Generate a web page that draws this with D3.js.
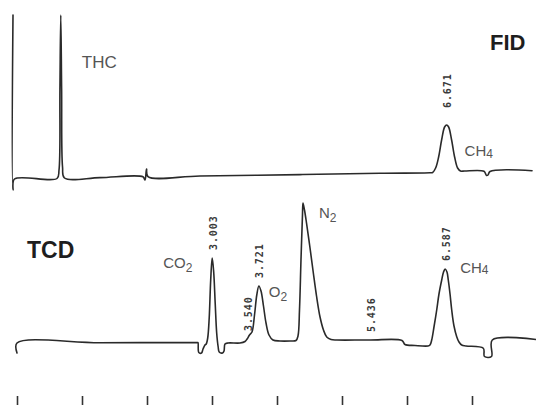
<!DOCTYPE html>
<html>
<head>
<meta charset="utf-8">
<script src="https://cdn.jsdelivr.net/npm/d3@7/dist/d3.min.js"></script>
<style>
  html, body { margin: 0; padding: 0; background: #ffffff; }
  svg { display: block; }
  .trace { fill: none; stroke: #2a2a2a; stroke-width: 1.6; stroke-linejoin: round; stroke-linecap: round; }
  .rt { font-family: "DejaVu Sans Mono", monospace; font-size: 10px; font-weight: bold; fill: #3a3a3a; letter-spacing: 0.9px; }
  .name { font-family: "Liberation Sans", Arial, sans-serif; fill: #555; }
  .det { font-family: "Liberation Sans", Arial, sans-serif; font-weight: bold; fill: #1e1e1e; }
</style>
</head>
<body>
<script>
// FID trace: retention time (min) and detector response (arbitrary units)
const fidTime = [0, 0, 0.023, 0.677, 0.708, 0.722, 0.735, 0.748, 0.762, 0.792, 1.338,
  2.000, 2.031, 2.054, 2.077, 2.877, 4.415, 5.646, 6.415, 6.456, 6.502, 6.548, 6.594, 6.640,
  6.671, 6.702, 6.748, 6.794, 6.840, 6.886, 6.948, 7.246, 7.285, 7.308, 7.338, 7.985];
const fidSignal = [164, -11, 0, 0.5, 9, 90, 164, 90, 12, 1, 1.4,
  2.2, -1, 10, 2.4, 3, 4.4, 5.7, 6.2, 6.5, 11, 22, 39, 52,
  54, 52, 39, 22, 11, 8, 8, 7.7, 3.5, 4, 7.5, 8.3];

// TCD trace: retention time (min) and detector response (arbitrary units)
const tcdTime = [0, 0, 1.277, 2.777, 2.785, 2.797, 2.838, 2.862, 2.892, 2.911, 2.934, 2.957,
  2.980, 3.003, 3.026, 3.049, 3.072, 3.095, 3.111, 3.162, 3.185, 3.200, 3.246, 3.431,
  3.508, 3.540, 3.577, 3.615, 3.654, 3.689, 3.721, 3.754, 3.792, 3.831, 3.877, 3.938,
  4.046, 4.200, 4.292, 4.323, 4.346, 4.369, 4.392, 4.400, 4.423, 4.454, 4.508, 4.559,
  4.608, 4.662, 4.715, 4.765, 4.831, 4.923, 5.431, 5.923, 5.969, 6.123, 6.323, 6.354,
  6.380, 6.415, 6.457, 6.492, 6.534, 6.562, 6.587, 6.615, 6.635, 6.662, 6.688, 6.723,
  6.765, 6.800, 6.842, 6.908, 7.174, 7.192, 7.300, 7.312, 7.985];
const tcdSignal = [-10, 0, 0.3, 0.5, 0.5, -9.5, -10, -6, -2, -1, 5, 25,
  63, 85, 71, 40, 10, -4, -9, -10, -8, -1, 0, 0,
  1.5, 4, 8, 11, 28, 48, 57, 52, 37, 20, 8, 3,
  2, 2, 2.5, 7, 33, 83, 128, 140, 133, 120, 95, 70,
  47, 26, 13, 6, 3.5, 3, 3, 2.5, -1.5, -2.5, -3, -2,
  3, 16, 33, 49, 63, 71, 74, 71, 63, 49, 33, 17,
  6.3, 1, -2, -3, -5.3, -13.5, -13.5, 3, 3.5];

// Integrator retention-time marks
const fidRtValues = [6.671];
const fidRtText = ["6.671"];
const tcdRtValues = [3.003, 3.540, 3.721, 5.436, 6.587];
const tcdRtText = ["3.003", "3.540", "3.721", "5.436", "6.587"];

// Time axis ticks (min)
const tickMinutes = [0, 1, 2, 3, 4, 5, 6, 7];

// Compound names: main part and subscript
const fidNames = ["THC", "CH"];
const fidSubs = ["", "4"];
const tcdNames = ["CO", "O", "N", "CH"];
const tcdSubs = ["2", "2", "2", "4"];

const W = 536, H = 406;
const svg = d3.select("body").append("svg").attr("width", W).attr("height", H);

// Scales: both recorder traces run at the same chart speed
const xF = d3.scaleLinear().domain([0, 8]).range([13, 533]);
const xT = d3.scaleLinear().domain([0, 8]).range([17, 537]);
const yF = d3.scaleLinear().domain([0, 164]).range([179, 15]);
const yT = d3.scaleLinear().domain([0, 140]).range([343, 203]);

const fidData = fidTime.map((t, i) => ({ t, v: fidSignal[i] }));
const tcdData = tcdTime.map((t, i) => ({ t, v: tcdSignal[i] }));

const curve = d3.curveCatmullRom.alpha(0.5);
const lineF = d3.line().x(d => xF(d.t)).y(d => yF(d.v)).curve(curve);
const lineT = d3.line().x(d => xT(d.t)).y(d => yT(d.v)).curve(curve);

svg.append("path").attr("class", "trace").attr("d", lineF(fidData));
svg.append("path").attr("class", "trace").attr("d", lineT(tcdData));

// Response at a given time
function valueAt(data, t) {
  const i = d3.bisector(d => d.t).left(data, t, 2);
  const a = data[Math.max(i - 1, 0)], b = data[Math.min(i, data.length - 1)];
  if (b.t === a.t) return a.v;
  return a.v + (b.v - a.v) * (t - a.t) / (b.t - a.t);
}

// Rotated retention-time labels above the peaks
function rtLabels(values, texts, data, x, y, gap) {
  svg.append("g").selectAll("text").data(values).join("text")
    .attr("class", "rt")
    .attr("transform", d => `translate(${x(d) + 1},${y(valueAt(data, d)) - gap}) rotate(-90)`)
    .attr("dy", "0.35em")
    .attr("text-anchor", "start")
    .text((d, i) => texts[i]);
}
rtLabels(fidRtValues, fidRtText, fidData, xF, yF, 17);
rtLabels(tcdRtValues, tcdRtText, tcdData, xT, yT, 8);

// Compound names
function nameLabel(main, sub, px, py, size, subDy) {
  const t = svg.append("text").attr("class", "name")
    .attr("x", px).attr("y", py).attr("font-size", size);
  t.append("tspan").text(main);
  if (sub) t.append("tspan").attr("font-size", size * 0.8).attr("dy", subDy).text(sub);
}
// THC spike and FID methane
nameLabel(fidNames[0], fidSubs[0], xF(0.735) + 21, 68, 17, 0);
nameLabel(fidNames[1], fidSubs[1], xF(6.671) + 18, 156, 15, 2);
// TCD peaks
nameLabel(tcdNames[0], tcdSubs[0], xT(3.003) - 49, 268, 15, 4);
nameLabel(tcdNames[1], tcdSubs[1], xT(3.721) + 10, 297, 15, 4);
nameLabel(tcdNames[2], tcdSubs[2], xT(4.400) + 16, 218, 15, 4);
nameLabel(tcdNames[3], tcdSubs[3], xT(6.587) + 15, 273, 15, 1);

// Detector titles
svg.append("text").attr("class", "det").attr("x", 490).attr("y", 50).attr("font-size", 22).text("FID");
svg.append("text").attr("class", "det").attr("x", 27).attr("y", 258).attr("font-size", 23).text("TCD");

// Minute ticks along the bottom
const axis = d3.axisBottom(xT).tickValues(tickMinutes).tickSize(9).tickFormat(() => "");
const gAxis = svg.append("g").attr("transform", "translate(0,396)").call(axis);
gAxis.select(".domain").remove();
gAxis.selectAll(".tick line").attr("stroke", "#333").attr("stroke-width", 1.6);
</script>
</body>
</html>
